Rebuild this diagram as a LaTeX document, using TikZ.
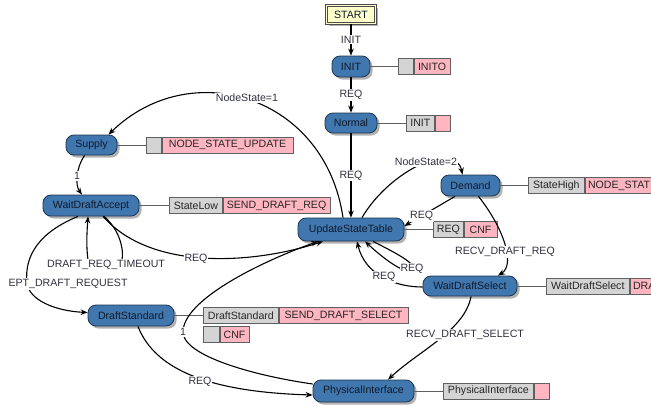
\documentclass[tikz,border=0pt]{standalone}
\usepackage{fontspec}
\setmainfont{Liberation Sans}
\usetikzlibrary{arrows.meta,shadows}
\definecolor{nodefill}{HTML}{4177AF}
\definecolor{nodedraw}{HTML}{1E3550}
\definecolor{nodetext}{HTML}{0F1A2A}
\definecolor{startfill}{HTML}{FFFFCC}
\definecolor{grayfill}{HTML}{D4D4D4}
\definecolor{pinkfill}{HTML}{FFB6C1}
\definecolor{boxdraw}{HTML}{606060}
\definecolor{lbltext}{HTML}{303040}
\begin{document}
\begin{tikzpicture}[x=1pt,y=-1pt,
  font=\fontsize{10.6}{12}\selectfont,
  state/.style={draw=nodedraw, line width=0.8pt, fill=nodefill, rounded corners=8pt, inner sep=0pt, text=nodetext,
     drop shadow={shadow xshift=2.5pt, shadow yshift=-2.5pt, fill=black, opacity=0.3}},
  startbox/.style={draw=black!70, line width=0.7pt, double=startfill, double distance=1.6pt, fill=startfill,
     inner sep=0pt, minimum width=49pt, minimum height=18pt, text=nodetext,
     drop shadow={shadow xshift=2.5pt, shadow yshift=-2.5pt, fill=black, opacity=0.3}},
  gbox/.style={draw=boxdraw, line width=0.7pt, fill=grayfill, anchor=west, minimum height=16pt, inner sep=0pt, text=black!85},
  pbox/.style={draw=boxdraw, line width=0.7pt, fill=pinkfill, anchor=west, minimum height=16pt, inner sep=0pt, text=black!85},
  attrline/.style={draw=boxdraw, line width=0.8pt},
  edge/.style={draw=black, line width=1.1pt, -{Stealth[length=7pt,width=5.5pt]}},
  lbl/.style={fill=white, inner sep=1pt, text=lbltext}
]
\fill[white] (0,0) rectangle (651,407);
\useasboundingbox (0,0) rectangle (651,407);
\clip (0,0) rectangle (651,407);

% states
\node[startbox] (start) at (351,14.5) {START};
\node[state, minimum width=38pt, minimum height=21pt] (init) at (351,66.5) {INIT};
\node[state, minimum width=52pt, minimum height=20pt] (normal) at (351,123) {Normal};
\node[state, minimum width=51pt, minimum height=20pt] (supply) at (91.5,145) {Supply};
\node[state, minimum width=96pt, minimum height=21pt] (wda) at (91,205.5) {WaitDraftAccept};
\node[state, minimum width=106pt, minimum height=23pt] (ust) at (351,229.5) {UpdateStateTable};
\node[state, minimum width=59pt, minimum height=21pt] (demand) at (470.5,185.5) {Demand};
\node[state, minimum width=94pt, minimum height=20pt] (wds) at (470,286) {WaitDraftSelect};
\node[state, minimum width=86pt, minimum height=21pt] (ds) at (131,315.5) {DraftStandard};
\node[state, minimum width=101pt, minimum height=22pt] (pi) at (363.5,391) {PhysicalInterface};

% attribute boxes
\node[gbox, minimum width=15pt] (initg) at (398,66.5) {};
\node[pbox, minimum width=36pt] (initp) at (initg.east) {INITO};
\node[gbox, minimum width=28pt] (normalg) at (406,123) {INIT};
\node[pbox, minimum width=15pt] (normalp) at (normalg.east) {};
\node[gbox, minimum width=15pt] (supplyg) at (146,145) {};
\node[pbox, minimum width=131pt] (supplyp) at (supplyg.east) {NODE\_STATE\_UPDATE};
\node[gbox, minimum width=53pt] (wdag) at (169,205.5) {StateLow};
\node[pbox, minimum width=107pt] (wdap) at (wdag.east) {SEND\_DRAFT\_REQ};
\node[gbox, minimum width=30pt] (ustg) at (433,229.5) {REQ};
\node[pbox, minimum width=33pt] (ustp) at (ustg.east) {CNF};
\node[gbox, minimum width=56pt] (demandg) at (528,185.5) {StateHigh};
\node[pbox, inner xsep=3pt, text width=70pt, align=left] (demandp) at (demandg.east) {NODE\_STAT};
\node[gbox, minimum width=83pt] (wdsg) at (546,286) {WaitDraftSelect};
\node[pbox, inner xsep=3pt, text width=25pt, align=left] (wdsp) at (wdsg.east) {DRA};
\node[gbox, minimum width=75pt] (dsg) at (203,315.5) {DraftStandard};
\node[pbox, minimum width=129pt] (dsp) at (dsg.east) {SEND\_DRAFT\_SELECT};
\node[gbox, minimum width=16pt] (dsg2) at (203,334.5) {};
\node[pbox, minimum width=29pt] (dsp2) at (dsg2.east) {CNF};
\node[gbox, minimum width=90pt] (pig) at (443,391) {PhysicalInterface};
\node[pbox, minimum width=15pt] (pip) at (pig.east) {};

\draw[attrline] (init.east) -- (initg.west);
\draw[attrline] (normal.east) -- (normalg.west);
\draw[attrline] (supply.east) -- (supplyg.west);
\draw[attrline] (wda.east) -- (wdag.west);
\draw[attrline] (ust.east) -- (ustg.west);
\draw[attrline] (demand.east) -- (demandg.west);
\draw[attrline] (wds.east) -- (wdsg.west);
\draw[attrline] (ds.east) -- (dsg.west);
\draw[attrline] (pi.east) -- (pig.west);

% transitions
\draw[edge] (start) -- node[lbl] (l1) {INIT} (init);
\draw[edge] (init) -- node[lbl] (l2) {REQ} (normal);
\draw[edge] (normal) -- node[lbl] (l3) {REQ} (ust);
\draw[edge] ([xshift=-8pt]ust.north) .. controls (325,95) and (190,55) .. ([xshift=17pt]supply.north);
\draw[edge] ([xshift=-7pt]supply.south) .. controls (76,168) and (75,185) .. ([xshift=-9pt]wda.north);
\draw[edge] ([xshift=12pt]wda.south) .. controls (150,270) and (250,265) .. ([xshift=-28pt]ust.south);
\draw[edge] ([yshift=7pt]pi.west) .. controls (250,375) and (183,355) .. (183,332) .. controls (183,300) and (260,262) .. ([xshift=-33pt]ust.south);
\draw[edge] ([xshift=-13pt]wda.south) .. controls (40,232) and (24,255) .. (27,283) .. controls (29,300) and (55,311) .. ([yshift=3pt]ds.west);
\draw[edge] ([xshift=13pt]wda.south) .. controls (120,230) and (124,250) .. (122,260) .. controls (120,272) and (90,272) .. (88,260) .. controls (86,245) and (87,232) .. ([xshift=-3pt]wda.south);
\draw[edge] ([xshift=11pt]ust.north) .. controls (390,170) and (455,140) .. ([xshift=-8pt]demand.north);
\draw[edge] ([xshift=-15.5pt]demand.south) -- node[lbl,pos=0.66] (l10) {REQ} ([yshift=3.5pt]ust.east);
\draw[edge] ([xshift=8pt]demand.south) .. controls (505,230) and (515,265) .. ([xshift=28pt]wds.north);
\draw[edge] ([yshift=-1pt]wds.west) .. controls (395,287) and (365,275) .. ([xshift=6pt]ust.south);
\draw[edge] ([xshift=22pt]ust.south) .. controls (400,255) and (418,265) .. (412,270) .. controls (406,275) and (385,260) .. ([xshift=14pt]ust.south);
\draw[edge] ([xshift=1pt]wds.south) .. controls (465,330) and (420,350) .. ([xshift=24.5pt]pi.north);
\draw[edge] ([xshift=7pt]ds.south) .. controls (155,370) and (210,392) .. ([yshift=-4pt]pi.west);

% labels
\node[lbl] (l4) at (247,98) {NodeState=1};
\node[lbl] (l5) at (77,176) {1};
\node[lbl] (l6) at (196,259) {REQ};
\node[lbl] (l7) at (183,332) {1};
\node[lbl] (l8) at (68,284) {EPT\_DRAFT\_REQUEST};
\node[lbl] (l9) at (106,265) {DRAFT\_REQ\_TIMEOUT};
\node[lbl] (l11) at (426,162) {NodeState=2};
\node[lbl] (l12) at (505,252) {RECV\_DRAFT\_REQ};
\node[lbl] (l13) at (384,277) {REQ};
\node[lbl] (l14) at (412,269) {REQ};
\node[lbl] (l15) at (465,335) {RECV\_DRAFT\_SELECT};
\node[lbl] (l16) at (200,382) {REQ};
\end{tikzpicture}
\end{document}
